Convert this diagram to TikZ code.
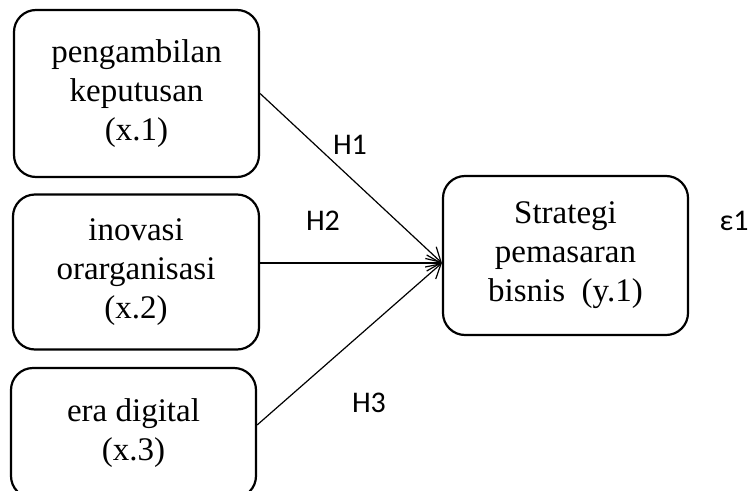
\documentclass[tikz,border=0pt]{standalone}
\usepackage{fontspec}
\setmainfont{Liberation Serif}
\newfontfamily\lblfont{Carlito}
\usetikzlibrary{arrows.meta}
\begin{document}
\begin{tikzpicture}[x=1pt,y=-1pt,
  box/.style={draw,line width=2.2pt,rounded corners=22pt,align=center,inner sep=0pt,
    font=\fontsize{33}{39}\selectfont},
  conn/.style={line width=1.2pt,-{Straight Barb[length=14pt,width=16pt,line width=1.2pt]}},
  lbl/.style={font=\lblfont\fontsize{30}{32}\selectfont,inner sep=0pt}]
\useasboundingbox (0,0) rectangle (749,490);
\node[box,minimum width=245pt,minimum height=167pt] (b1) at (136.5,93.5) {pengambilan\\keputusan\\(x.1)};
\node[box,minimum width=246pt,minimum height=155pt] (b2) at (136,272) {inovasi\\orarganisasi\\(x.2)};
\node[box,minimum width=245pt,minimum height=130pt] (b3) at (133.5,433) {era digital\\(x.3)};
\node[box,minimum width=245pt,minimum height=159pt] (b4) at (565.5,255.5) {Strategi\\pemasaran\\bisnis\ \ (y.1)};
\draw[conn] (b1.east) -- ([yshift=-7.5pt]b4.west);
\draw[conn] ([yshift=9pt]b2.east) -- ([yshift=-7.5pt]b4.west);
\draw[conn] ([yshift=8pt]b3.east) -- ([yshift=-7.5pt]b4.west);
\node[lbl] (h1) at (350,145) {H1};
\node[lbl] (h2) at (323,221) {H2};
\node[lbl] (h3) at (369,403) {H3};
\node[lbl] (e1) at (734,221) {ε1};
\end{tikzpicture}
\end{document}
